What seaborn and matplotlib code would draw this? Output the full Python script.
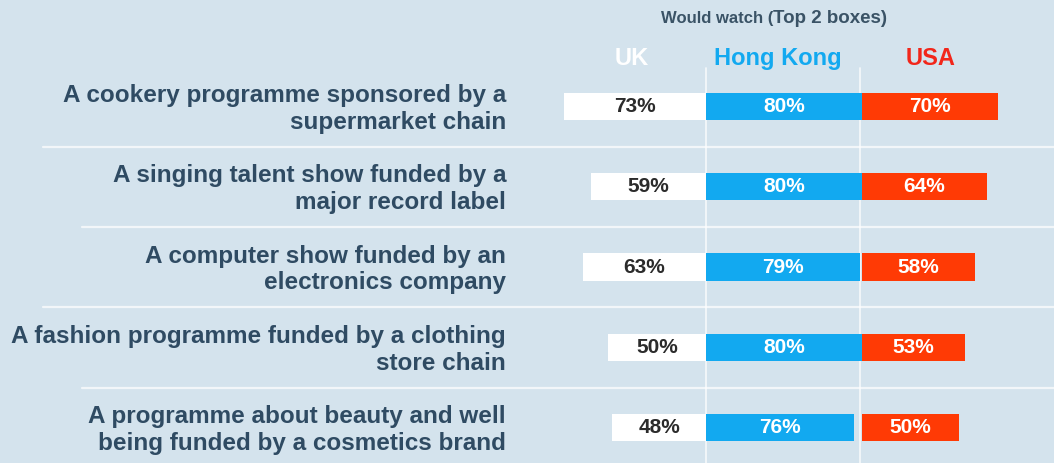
import matplotlib
matplotlib.use("Agg")
import matplotlib.pyplot as plt
import seaborn as sns
import pandas as pd

# Survey data: share who would watch each sponsored programme (top 2 boxes)
programmes = [
    "A cookery programme sponsored by a\nsupermarket chain",
    "A singing talent show funded by a\nmajor record label",
    "A computer show funded by an\nelectronics company",
    "A fashion programme funded by a clothing\nstore chain",
    "A programme about beauty and well\nbeing funded by a cosmetics brand",
]
uk = [73, 59, 63, 50, 48]
hong_kong = [80, 80, 79, 80, 76]
usa = [70, 64, 58, 53, 50]

countries = ["UK", "Hong Kong", "USA"]
title_parts = ["Would watch (", "Top 2 boxes)"]

BG = "#d4e3ed"
TEXT = "#2f4b63"
UK_COL = "#ffffff"
HK_COL = "#12a9f0"
USA_COL = "#ff3a05"

sns.set_theme(style="white")
plt.rcParams["font.family"] = ["Liberation Sans", "DejaVu Sans"]

fig = plt.figure(figsize=(10.54, 4.63), dpi=100)
fig.patch.set_facecolor(BG)
ax = fig.add_axes([0, 0, 1, 1])
ax.set_facecolor(BG)

df = pd.DataFrame({"programme": programmes, "UK": uk, "HK": hong_kong, "USA": usa})
df["UK_left"] = -df["UK"]
usa_start = max(hong_kong)

bar_w = 0.34
# UK bars extend to the left of the common baseline
sns.barplot(data=df, x="UK_left", y="programme", orient="h", color=UK_COL,
            width=bar_w, saturation=1, ax=ax)
sns.barplot(data=df, x="HK", y="programme", orient="h", color=HK_COL,
            width=bar_w, saturation=1, ax=ax)
n_before = len(ax.patches)
sns.barplot(data=df, x="USA", y="programme", orient="h", color=USA_COL,
            width=bar_w, saturation=1, ax=ax)
# USA column starts after the Hong Kong column
for p in ax.patches[n_before:]:
    p.set_x(p.get_x() + usa_start)
for p in ax.patches:
    p.set_linewidth(0)

# Layout in data units (about 1.95 px per percentage point)
ax.set_xlim(-362, 178.5)
ax.set_ylim(4.44, -1.326)
ax.axis("off")

# Row separators and column dividers
for i in range(len(programmes) - 1):
    x0 = -340 if i % 2 == 0 else -320
    ax.plot([x0, 178.5], [i + 0.5, i + 0.5], color="white", lw=1.6, alpha=0.7, zorder=0)
for xv in (0, usa_start - 1):
    ax.plot([xv, xv], [-0.48, 4.44], color="white", lw=1.2, alpha=0.8, zorder=0)

# Value labels centred in each bar, programme names to the left
for i in range(len(programmes)):
    ax.text(-uk[i] / 2, i, f"{uk[i]}%", ha="center", va="center",
            fontsize=15, fontweight="bold", color="#2b2b2b")
    ax.text(hong_kong[i] / 2, i, f"{hong_kong[i]}%", ha="center", va="center",
            fontsize=15, fontweight="bold", color="white")
    ax.text(usa_start + usa[i] / 2, i, f"{usa[i]}%", ha="center", va="center",
            fontsize=15, fontweight="bold", color="white")
    ax.text(-102.5, i + 0.03, programmes[i], ha="right", va="center",
            fontsize=17.5, fontweight="bold", color=TEXT, linespacing=1.2)

# Column headers
header_y = -0.6
ax.text(-38, header_y, countries[0], ha="center", va="center",
        fontsize=17, fontweight="bold", color="white")
ax.text(37, header_y, countries[1], ha="center", va="center",
        fontsize=17, fontweight="bold", color=HK_COL)
ax.text(115, header_y, countries[2], ha="center", va="center",
        fontsize=17, fontweight="bold", color="#f2261a")
ax.text(34.5, -1.1, title_parts[0], ha="right", va="center",
        fontsize=12, fontweight="bold", color="#3a5366")
ax.text(34.5, -1.1, title_parts[1], ha="left", va="center",
        fontsize=13.5, fontweight="bold", color="#3a5366")

fig.savefig("out.png", dpi=100, facecolor=BG)
